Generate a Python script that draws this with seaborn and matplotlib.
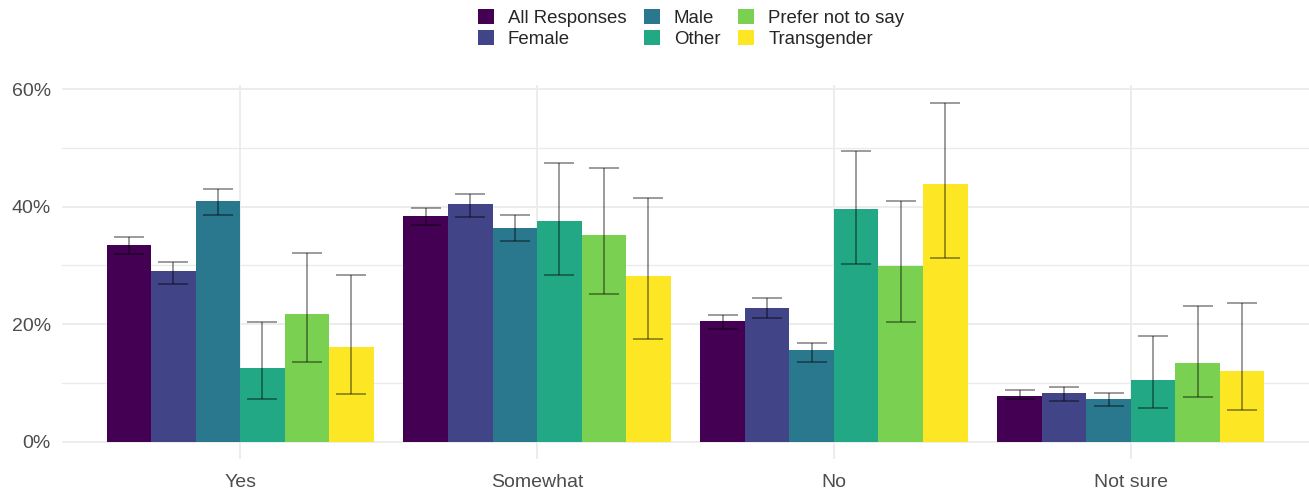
import numpy as np
import pandas as pd
import matplotlib
matplotlib.use("Agg")
import matplotlib.pyplot as plt
import seaborn as sns
from matplotlib.patches import Patch
from matplotlib.ticker import MultipleLocator, FuncFormatter

# Survey answers and groups
answers = ["Yes", "Somewhat", "No", "Not sure"]
groups = ["All Responses", "Female", "Male", "Other", "Prefer not to say", "Transgender"]

# Share of responses (%) per group, in order of answers
share_all = [33.4, 38.4, 20.5, 7.8]
share_female = [29.0, 40.4, 22.8, 8.2]
share_male = [41.0, 36.3, 15.5, 7.3]
share_other = [12.6, 37.5, 39.5, 10.5]
share_prefer = [21.7, 35.2, 29.9, 13.4]
share_trans = [16.1, 28.1, 43.9, 12.0]

# Confidence interval bounds (%)
lower_all = [31.9, 36.8, 19.2, 7.2]
upper_all = [34.8, 39.8, 21.6, 8.7]
lower_female = [26.9, 38.3, 21.0, 6.9]
upper_female = [30.6, 42.1, 24.5, 9.3]
lower_male = [38.6, 34.1, 13.6, 6.0]
upper_male = [43.0, 38.6, 16.8, 8.3]
lower_other = [7.2, 28.3, 30.3, 5.7]
upper_other = [20.4, 47.4, 49.5, 18.0]
lower_prefer = [13.6, 25.1, 20.4, 7.5]
upper_prefer = [32.1, 46.5, 40.9, 23.0]
lower_trans = [8.1, 17.5, 31.2, 5.4]
upper_trans = [28.3, 41.5, 57.7, 23.6]

shares = [share_all, share_female, share_male, share_other, share_prefer, share_trans]
lowers = [lower_all, lower_female, lower_male, lower_other, lower_prefer, lower_trans]
uppers = [upper_all, upper_female, upper_male, upper_other, upper_prefer, upper_trans]

rows = []
for g, s, lo, hi in zip(groups, shares, lowers, uppers):
    for a, v, l, h in zip(answers, s, lo, hi):
        rows.append({"answer": a, "group": g, "share": v, "lo": l, "hi": h})
df = pd.DataFrame(rows)

palette = ["#440154", "#414487", "#2A788E", "#22A884", "#7AD151", "#FDE725"]

sns.set_theme(style="white")
plt.rcParams["font.family"] = ["Liberation Sans", "DejaVu Sans"]

W, H = 1309, 493
fig = plt.figure(figsize=(W / 100, H / 100), dpi=100)
ax = fig.add_axes([62 / W, (H - 458.5) / H, (1309 - 62) / W, (458.5 - 85.5) / H])

sns.barplot(data=df, x="answer", y="share", hue="group", order=answers,
            hue_order=groups, palette=palette, width=0.9, gap=0,
            errorbar=None, saturation=1, legend=False, ax=ax, zorder=2,
            linewidth=0)

# Error bars placed at each bar's centre
for container, g in zip(ax.containers, groups):
    sub = df[df["group"] == g].set_index("answer").loc[answers]
    xs = [b.get_x() + b.get_width() / 2 for b in container]
    ys = sub["share"].values
    err = np.vstack([ys - sub["lo"].values, sub["hi"].values - ys])
    ax.errorbar(xs, ys, yerr=err, fmt="none", ecolor="#000000", alpha=0.5,
                elinewidth=1.1, capsize=11, capthick=1.1, zorder=3)

ax.set_xlim(-0.6, 3.6)
ax.set_ylim(-2.885, 60.6)
ax.yaxis.set_major_locator(MultipleLocator(20))
ax.yaxis.set_minor_locator(MultipleLocator(10))
ax.yaxis.set_major_formatter(FuncFormatter(lambda v, p: f"{v:.0f}%"))
ax.grid(True, which="major", axis="both", color="#ebebeb", linewidth=1.3, zorder=0)
ax.grid(True, which="minor", axis="y", color="#ebebeb", linewidth=1.0, zorder=0)
ax.set_axisbelow(True)
for sp in ax.spines.values():
    sp.set_visible(False)
ax.set_xlabel("")
ax.set_ylabel("")
ax.tick_params(axis="both", which="both", length=0, labelsize=14, colors="#4d4d4d")
ax.tick_params(axis="y", pad=8)
ax.tick_params(axis="x", pad=11.5)

handles = [Patch(facecolor=c, edgecolor="none") for c in palette]
fig.legend(handles, groups, ncol=3, loc="upper center",
           bbox_to_anchor=(691 / W, (H - 9) / H), frameon=False,
           fontsize=13.4, handlelength=0.86, handleheight=0.86,
           handletextpad=0.75, columnspacing=0.95, labelspacing=0.16,
           borderpad=0, borderaxespad=0)

fig.savefig("out.png", dpi=100, facecolor="white")
